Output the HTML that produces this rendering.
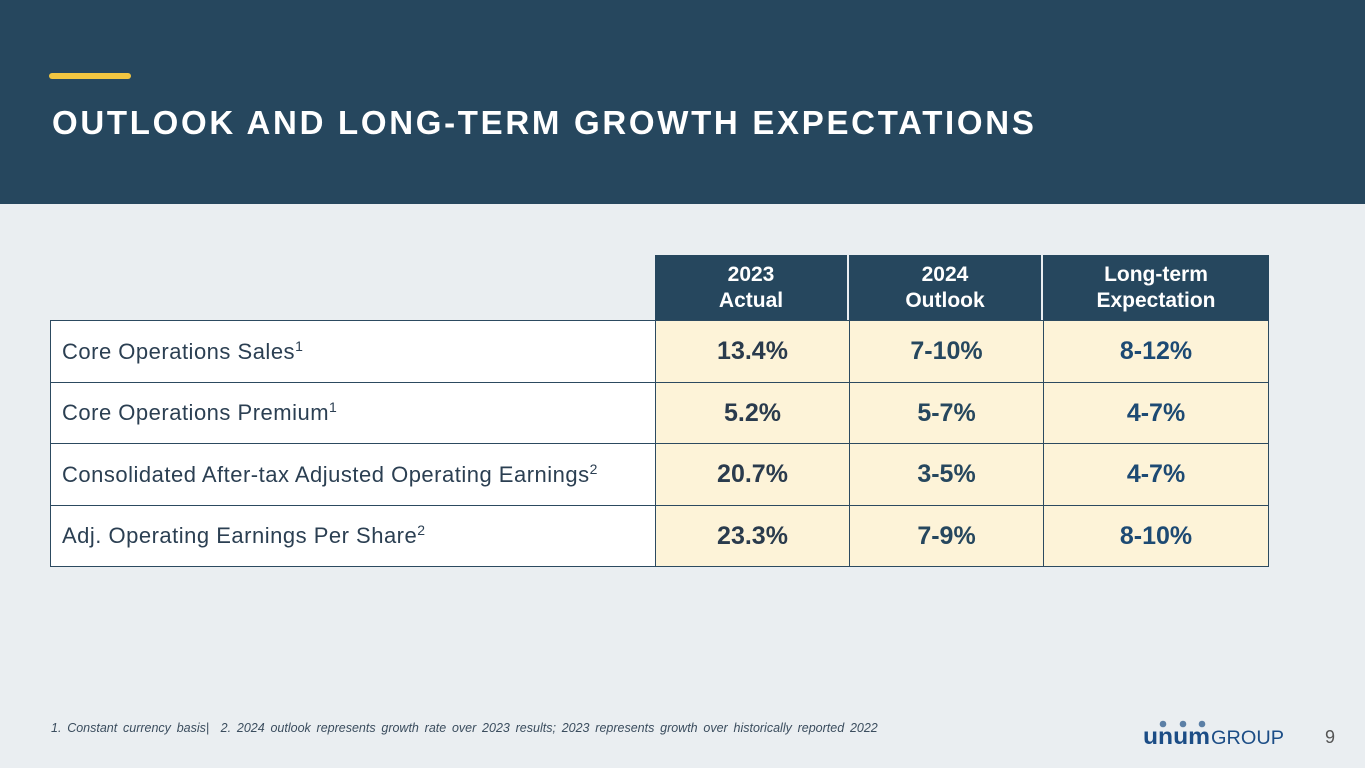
<!DOCTYPE html>
<html><head><meta charset="utf-8"><style>
*{margin:0;padding:0;box-sizing:border-box}
body{width:1365px;height:768px;background:#eaeef1;position:relative;overflow:hidden;font-family:"Liberation Sans",sans-serif}
.hdr{position:absolute;left:0;top:0;width:1365px;height:204px;background:#26475e}
.bar{position:absolute;left:49px;top:73px;width:82px;height:6px;border-radius:3px;background:#f2c641}
.title{position:absolute;left:52px;top:104px;font-size:33px;font-weight:bold;color:#fff;letter-spacing:2.7px;white-space:nowrap}
.c{position:absolute;display:flex;align-items:center;justify-content:center;text-align:center}
.h{background:#26475e;color:#fff;font-weight:bold;font-size:21px;line-height:26px}
.lab{background:#fff;justify-content:flex-start;padding-left:11px;font-size:22px;letter-spacing:0.5px;color:#2b3f52;border:1px solid #2c4a60}
.v{background:#fdf3d8;font-size:25px;font-weight:bold;border:1px solid #2c4a60}
sup{font-size:14px;vertical-align:8px;line-height:0}
.foot{position:absolute;left:51px;top:721px;font-size:12.5px;font-style:italic;color:#3b4d5e;word-spacing:2.3px}
.pg{position:absolute;left:1325px;top:727px;font-size:18px;color:#555}
.logo{position:absolute;left:1143px;top:720px;white-space:nowrap}
</style></head><body>
<div class="hdr"></div>
<div class="bar"></div>
<div class="title">OUTLOOK AND LONG-TERM GROWTH EXPECTATIONS</div>

<div>
<div class="c h" style="left:655px;top:255px;width:192px;height:65px">2023<br>Actual</div>
<div class="c h" style="left:849px;top:255px;width:192px;height:65px">2024<br>Outlook</div>
<div class="c h" style="left:1043px;top:255px;width:226px;height:65px">Long-term<br>Expectation</div>

<div class="c lab" style="left:50px;top:320px;width:606px;height:63px"><span>Core Operations Sales<sup>1</sup></span></div>
<div class="c v" style="left:655px;top:320px;width:195px;height:63px;color:#2a3b4d">13.4%</div>
<div class="c v" style="left:849px;top:320px;width:195px;height:63px;color:#26475e">7-10%</div>
<div class="c v" style="left:1043px;top:320px;width:226px;height:63px;color:#1d4a73">8-12%</div>

<div class="c lab" style="left:50px;top:382px;width:606px;height:62px"><span>Core Operations Premium<sup>1</sup></span></div>
<div class="c v" style="left:655px;top:382px;width:195px;height:62px;color:#2a3b4d">5.2%</div>
<div class="c v" style="left:849px;top:382px;width:195px;height:62px;color:#26475e">5-7%</div>
<div class="c v" style="left:1043px;top:382px;width:226px;height:62px;color:#1d4a73">4-7%</div>

<div class="c lab" style="left:50px;top:443px;width:606px;height:63px"><span>Consolidated After-tax Adjusted Operating Earnings<sup>2</sup></span></div>
<div class="c v" style="left:655px;top:443px;width:195px;height:63px;color:#2a3b4d">20.7%</div>
<div class="c v" style="left:849px;top:443px;width:195px;height:63px;color:#26475e">3-5%</div>
<div class="c v" style="left:1043px;top:443px;width:226px;height:63px;color:#1d4a73">4-7%</div>

<div class="c lab" style="left:50px;top:505px;width:606px;height:62px"><span>Adj. Operating Earnings Per Share<sup>2</sup></span></div>
<div class="c v" style="left:655px;top:505px;width:195px;height:62px;color:#2a3b4d">23.3%</div>
<div class="c v" style="left:849px;top:505px;width:195px;height:62px;color:#26475e">7-9%</div>
<div class="c v" style="left:1043px;top:505px;width:226px;height:62px;color:#1d4a73">8-10%</div>
</div>

<div class="foot">1. Constant currency basis| &nbsp;2. 2024 outlook represents growth rate over 2023 results; 2023 represents growth over historically reported 2022</div>
<div class="logo">
<svg width="150" height="28">
<circle cx="20" cy="4" r="3.3" fill="#5b7fa6"/><circle cx="40" cy="4" r="3.3" fill="#5b7fa6"/><circle cx="59" cy="4" r="3.3" fill="#5b7fa6"/>
<text x="0" y="24" font-family="Liberation Sans" font-weight="bold" font-size="23" fill="#1c4d86" textLength="67" lengthAdjust="spacingAndGlyphs">unum</text>
<text x="68" y="24" font-family="Liberation Sans" font-size="19" fill="#1c4d86" textLength="73" lengthAdjust="spacingAndGlyphs">GROUP</text>
</svg></div>
<div class="pg">9</div>
</body></html>
